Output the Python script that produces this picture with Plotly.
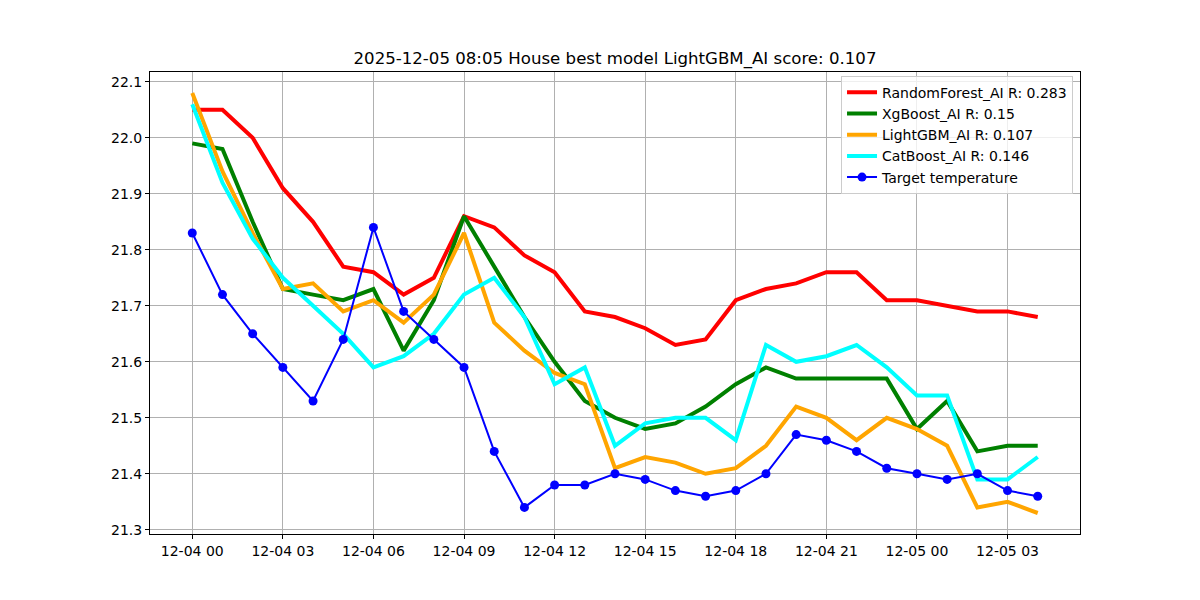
import pandas as pd
import plotly.graph_objects as go

times = pd.date_range("2025-12-04 00:00", periods=29, freq="h")

random_forest = [22.05, 22.05, 22.00, 21.91, 21.85, 21.77, 21.76, 21.72, 21.75, 21.86,
                 21.84, 21.79, 21.76, 21.69, 21.68, 21.66, 21.63, 21.64, 21.71, 21.73,
                 21.74, 21.76, 21.76, 21.71, 21.71, 21.70, 21.69, 21.69, 21.68]
xgboost = [21.99, 21.98, 21.85, 21.73, 21.72, 21.71, 21.73, 21.62, 21.71, 21.86,
           21.77, 21.68, 21.60, 21.53, 21.50, 21.48, 21.49, 21.52, 21.56, 21.59,
           21.57, 21.57, 21.57, 21.57, 21.48, 21.53, 21.44, 21.45, 21.45]
lightgbm = [22.08, 21.94, 21.83, 21.73, 21.74, 21.69, 21.71, 21.67, 21.72, 21.83,
            21.67, 21.62, 21.58, 21.56, 21.41, 21.43, 21.42, 21.40, 21.41, 21.45,
            21.52, 21.50, 21.46, 21.50, 21.48, 21.45, 21.34, 21.35, 21.33]
catboost = [22.06, 21.92, 21.82, 21.75, 21.70, 21.65, 21.59, 21.61, 21.65, 21.72,
            21.75, 21.68, 21.56, 21.59, 21.45, 21.49, 21.50, 21.50, 21.46, 21.63,
            21.60, 21.61, 21.63, 21.59, 21.54, 21.54, 21.39, 21.39, 21.43]
target = [21.83, 21.72, 21.65, 21.59, 21.53, 21.64, 21.84, 21.69, 21.64, 21.59,
          21.44, 21.34, 21.38, 21.38, 21.40, 21.39, 21.37, 21.36, 21.37, 21.40,
          21.47, 21.46, 21.44, 21.41, 21.40, 21.39, 21.40, 21.37, 21.36]

models = [
    ("RandomForest_AI R: 0.283", random_forest, "red"),
    ("XgBoost_AI R: 0.15", xgboost, "green"),
    ("LightGBM_AI R: 0.107", lightgbm, "orange"),
    ("CatBoost_AI R: 0.146", catboost, "cyan"),
]

fig = go.Figure()
for name, vals, color in models:
    fig.add_trace(go.Scatter(x=times, y=vals, mode="lines", name=name,
                             line=dict(color=color, width=4)))
fig.add_trace(go.Scatter(x=times, y=target, mode="lines+markers", name="Target temperature",
                         line=dict(color="blue", width=2),
                         marker=dict(color="blue", size=9)))

x0 = times[0] - pd.Timedelta(hours=1.4)
x1 = times[-1] + pd.Timedelta(hours=1.4)

fig.update_layout(
    width=1200, height=600,
    paper_bgcolor="white", plot_bgcolor="white",
    margin=dict(l=150, r=120, t=72, b=66),
    font=dict(family="DejaVu Sans", size=14, color="black"),
    title=dict(text="2025-12-05 08:05 House best model LightGBM_AI score: 0.107",
               x=0.5, xref="paper", xanchor="center", y=1 - 58 / 600, yanchor="middle",
               font=dict(size=16.6, color="black")),
    showlegend=True,
    legend=dict(x=0.9925, xanchor="right", y=0.992, yanchor="top",
                bgcolor="rgba(255,255,255,0.8)", bordercolor="#cccccc", borderwidth=1,
                font=dict(size=14), tracegroupgap=0, itemwidth=30),
)
fig.update_xaxes(range=[x0, x1], tickformat="%m-%d %H", dtick=3 * 3600 * 1000,
                 tick0=times[0], showgrid=True, gridcolor="#b0b0b0", gridwidth=1,
                 showline=True, linecolor="black", linewidth=1, mirror=True,
                 ticks="outside", ticklen=4, tickcolor="black", zeroline=False)
fig.update_yaxes(range=[21.2925, 22.1175], dtick=0.1, tick0=21.3, tickformat=".1f",
                 showgrid=True, gridcolor="#b0b0b0", gridwidth=1,
                 showline=True, linecolor="black", linewidth=1, mirror=True,
                 ticks="outside", ticklen=4, tickcolor="black", zeroline=False)

fig.write_html("out.html")
